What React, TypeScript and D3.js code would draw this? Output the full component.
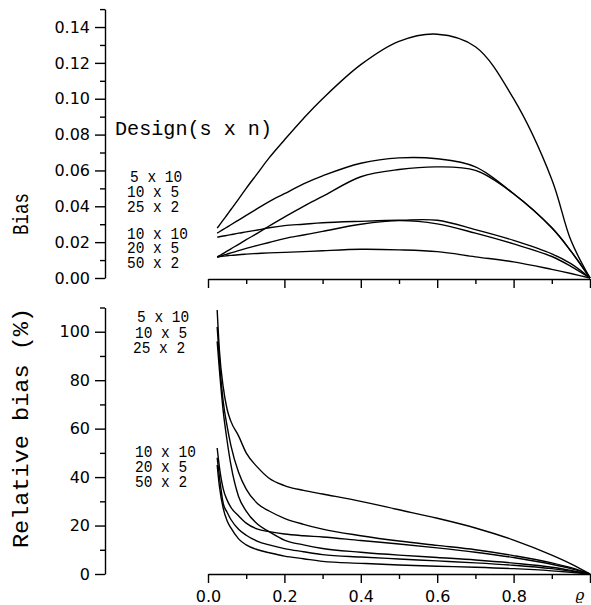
import React, { useEffect, useRef } from 'react'
import * as d3 from 'd3'

// correlation grid (rho) shared by every curve
const rho = [0.024, 0.03, 0.04, 0.05, 0.06, 0.08, 0.1, 0.13, 0.16, 0.2, 0.25, 0.3, 0.4, 0.5, 0.6, 0.7, 0.8, 0.9, 0.95, 1.0]

// upper panel: bias
const bias5x10 = [0.0278, 0.0295, 0.0324, 0.0353, 0.0382, 0.044, 0.05, 0.0585, 0.067, 0.077, 0.089, 0.1, 0.119, 0.132, 0.136, 0.129, 0.1, 0.055, 0.021, 0]
const bias10x5 = [0.025, 0.0258, 0.0271, 0.0284, 0.0297, 0.0323, 0.0349, 0.0388, 0.0426, 0.047, 0.0525, 0.057, 0.064, 0.067, 0.0665, 0.062, 0.047, 0.028, 0.015, 0]
const bias25x2 = [0.0228, 0.023, 0.0234, 0.0238, 0.0242, 0.025, 0.0257, 0.0268, 0.028, 0.0292, 0.03, 0.0308, 0.0316, 0.0322, 0.0322, 0.027, 0.021, 0.0135, 0.008, 0]
const bias10x10 = [0.0117, 0.0125, 0.0137, 0.015, 0.0163, 0.0188, 0.0214, 0.025, 0.029, 0.034, 0.04, 0.0455, 0.0565, 0.0605, 0.062, 0.06, 0.047, 0.028, 0.015, 0]
const bias20x5 = [0.0117, 0.012, 0.0127, 0.0133, 0.014, 0.0153, 0.0165, 0.0182, 0.0198, 0.022, 0.024, 0.026, 0.03, 0.032, 0.0302, 0.025, 0.019, 0.012, 0.0065, 0]
const bias50x2 = [0.0117, 0.0119, 0.0122, 0.0124, 0.0126, 0.013, 0.0133, 0.0137, 0.014, 0.0143, 0.0147, 0.0152, 0.016, 0.0157, 0.0147, 0.0118, 0.009, 0.0048, 0.0025, 0]

// lower panel: relative bias (%)
const rel5x10 = [109, 92, 77, 68, 63, 57, 50, 44, 39.5, 36.5, 34.5, 33, 30, 26.5, 23, 19, 14, 7.8, 4.2, 0]
const rel10x5 = [102, 88, 71, 61, 53, 42, 35, 29, 26, 23, 20.5, 18.5, 15.8, 13.6, 11.8, 10, 7.6, 4.6, 2.6, 0]
const rel25x2 = [96, 84, 67, 55, 45, 32, 26, 20.5, 17.5, 14, 12, 10.5, 9, 7.8, 6.8, 5.8, 4.5, 2.8, 1.5, 0]
const rel10x10 = [52, 44, 35, 30.5, 27.5, 24, 21, 18.5, 17.5, 16.5, 15.8, 15.3, 13.8, 12.4, 10.8, 9, 6.8, 4, 2.2, 0]
const rel20x5 = [48, 40, 29, 25.5, 22.5, 18.5, 16, 13.5, 12, 10.5, 9.2, 8, 7, 6.2, 5.4, 4.6, 3.6, 2.2, 1.2, 0]
const rel50x2 = [45, 36, 27, 22, 19, 14.5, 12, 10, 8.8, 7.4, 6.3, 5.2, 4.4, 3.7, 3.2, 2.8, 2.2, 1.3, 0.7, 0]

const topSeries = [bias5x10, bias10x5, bias25x2, bias10x10, bias20x5, bias50x2]
const bottomSeries = [rel5x10, rel10x5, rel25x2, rel10x10, rel20x5, rel50x2]

const designsHigh = ['5 x 10', '10 x 5', '25 x 2']
const designsLow = ['10 x 10', '20 x 5', '50 x 2']

const biasTicks = [0, 0.02, 0.04, 0.06, 0.08, 0.1, 0.12, 0.14]
const biasMinor = [0.01, 0.03, 0.05, 0.07, 0.09, 0.11, 0.13, 0.15]
const relTicks = [0, 20, 40, 60, 80, 100]
const relMinor = [10, 30, 50, 70, 90, 110]
const rhoTicks = [0, 0.2, 0.4, 0.6, 0.8, 1.0]
const rhoMinor = [0.1, 0.3, 0.5, 0.7, 0.9]

const mono = '"Liberation Mono", "DejaVu Sans Mono", monospace'

export default function App() {
  const ref = useRef(null)

  useEffect(() => {
    const svg = d3.select(ref.current)
    svg.selectAll('*').remove()

    const x = d3.scaleLinear().domain([0, 1]).range([208, 590])
    const yTop = d3.scaleLinear().domain([0, 0.15]).range([278, 9.1])
    const yBot = d3.scaleLinear().domain([0, 110]).range([574, 307.5])

    const styleAxis = (g) => {
      g.selectAll('path').attr('stroke', '#000').attr('stroke-width', 1.4)
      g.selectAll('line').attr('stroke', '#000').attr('stroke-width', 1.4)
      g.selectAll('text')
        .attr('fill', '#000')
        .style('font-family', '"DejaVu Sans", sans-serif')
        .style('font-size', '16px')
    }

    // y axes
    svg.append('g').attr('transform', 'translate(105,0)')
      .call(d3.axisLeft(yTop).tickValues(biasTicks).tickSize(10).tickSizeOuter(0).tickPadding(5).tickFormat(d3.format('.2f')))
      .call(styleAxis)
    svg.append('g').attr('transform', 'translate(105,0)')
      .call(d3.axisLeft(yTop).tickValues(biasMinor).tickSize(5).tickFormat(() => ''))
      .call((g) => g.select('.domain').remove())
      .call(styleAxis)

    svg.append('g').attr('transform', 'translate(105,0)')
      .call(d3.axisLeft(yBot).tickValues(relTicks).tickSize(10).tickSizeOuter(0).tickPadding(5).tickFormat(d3.format('d')))
      .call(styleAxis)
    svg.append('g').attr('transform', 'translate(105,0)')
      .call(d3.axisLeft(yBot).tickValues(relMinor).tickSize(5).tickFormat(() => ''))
      .call((g) => g.select('.domain').remove())
      .call(styleAxis)

    // x axes
    svg.append('g').attr('transform', 'translate(0,279)')
      .call(d3.axisBottom(x).tickValues(rhoTicks).tickSize(9).tickSizeOuter(0).tickFormat(() => ''))
      .call(styleAxis)
    svg.append('g').attr('transform', 'translate(0,279)')
      .call(d3.axisBottom(x).tickValues(rhoMinor).tickSize(5).tickFormat(() => ''))
      .call((g) => g.select('.domain').remove())
      .call(styleAxis)

    svg.append('g').attr('transform', 'translate(0,574)')
      .call(d3.axisBottom(x).tickValues(rhoTicks).tickSize(9).tickSizeOuter(0).tickPadding(8)
        .tickFormat((d) => (d === 1 ? '' : d3.format('.1f')(d))))
      .call(styleAxis)
    svg.append('g').attr('transform', 'translate(0,574)')
      .call(d3.axisBottom(x).tickValues(rhoMinor).tickSize(5).tickFormat(() => ''))
      .call((g) => g.select('.domain').remove())
      .call(styleAxis)

    svg.append('text').attr('x', 580).attr('y', 600)
      .attr('text-anchor', 'middle')
      .style('font-family', '"DejaVu Serif", serif').style('font-style', 'italic').style('font-size', '15px')
      .text('ϱ')

    // curves
    const lineTop = d3.line().x((d, i) => x(rho[i])).y((d) => yTop(d)).curve(d3.curveCatmullRom.alpha(0.5))
    const lineBot = d3.line().x((d, i) => x(rho[i])).y((d) => yBot(d)).curve(d3.curveMonotoneX)

    svg.append('g').selectAll('path').data(topSeries).enter().append('path')
      .attr('d', (d) => lineTop(d))
      .attr('fill', 'none').attr('stroke', '#000').attr('stroke-width', 1.4)
    svg.append('g').selectAll('path').data(bottomSeries).enter().append('path')
      .attr('d', (d) => lineBot(d))
      .attr('fill', 'none').attr('stroke', '#000').attr('stroke-width', 1.4)

    // titles
    const vtitle = (text, cx, cy, len) =>
      svg.append('text')
        .attr('transform', `translate(${cx},${cy}) rotate(-90)`)
        .attr('text-anchor', 'middle')
        .attr('textLength', len).attr('lengthAdjust', 'spacingAndGlyphs')
        .style('font-family', mono).style('font-size', '22px')
        .text(text)
    vtitle('Bias', 28, 214, 42)
    vtitle('Relative bias (%)', 28, 428, 240)

    svg.append('text').attr('x', 115).attr('y', 135)
      .attr('textLength', 157).attr('lengthAdjust', 'spacingAndGlyphs')
      .style('font-family', mono).style('font-size', '20px')
      .text('Design(s x n)')

    // design labels
    const labels = (names, x0, baselines) => {
      names.forEach((n, i) => {
        svg.append('text').attr('x', x0[i]).attr('y', baselines[i])
          .attr('textLength', n.length * 8.7).attr('lengthAdjust', 'spacingAndGlyphs')
          .style('font-family', mono).style('font-size', '17px')
          .text(n)
      })
    }
    labels(designsHigh, [130, 127, 127], [182, 197, 212])
    labels(designsLow, [127, 127, 127], [239, 253, 268])
    labels(designsHigh, [137, 135, 133], [322, 338, 353])
    labels(designsLow, [135, 135, 135], [457, 472, 487])
  }, [])

  return (
    <svg
      ref={ref}
      width={591}
      height={605}
      style={{ position: 'absolute', left: 0, top: 0, background: '#fff' }}
    />
  )
}
